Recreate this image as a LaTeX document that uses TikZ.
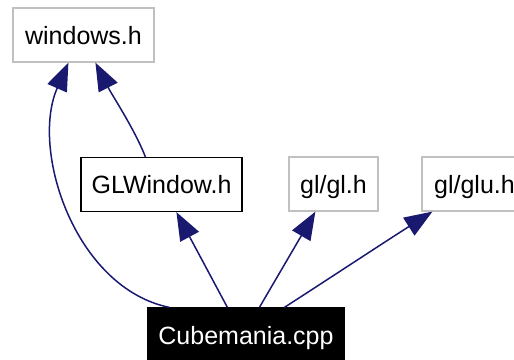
\documentclass[tikz,border=0pt]{standalone}
\usepackage{fontspec}
\setmainfont{Liberation Sans}
\usetikzlibrary{arrows.meta,calc}
\definecolor{edgeblue}{RGB}{25,25,112}
\definecolor{boxgray}{RGB}{192,192,192}
\tikzset{
  filebox/.style={draw=boxgray, line width=1.2pt, fill=white, inner sep=0pt,
    minimum height=54pt, text height=18pt, text depth=0pt,
    font=\fontsize{25}{25}\selectfont},
  mainbox/.style={filebox, draw=black},
  rootbox/.style={filebox, draw=black, fill=black, text=white},
  dep/.style={draw=edgeblue, line width=1.5pt, -{Triangle[length=28pt,width=21pt]}}
}
\begin{document}
\begin{tikzpicture}[x=1pt,y=-1pt]
\useasboundingbox (0,0) rectangle (514,359);
\node[filebox, minimum width=141pt] (win) at (83.5,35) {windows.h};
\node[mainbox, minimum width=161pt] (glw) at (161.5,184.5) {GLWindow.h};
\node[filebox, minimum width=89pt] (gl) at (333.5,184) {gl/gl.h};
\node[filebox, minimum width=105pt] (glu) at (474.5,184) {gl/glu.h};
\node[rootbox, minimum width=196pt, minimum height=55pt] (cube) at (246,335.5) {Cubemania.cpp};
\draw[dep] ([xshift=22pt]cube.north west) .. controls (75,288) and (30,150) .. ([xshift=56pt]win.south west);
\draw[dep] ([xshift=65pt]glw.north west) .. controls (135,130) and (112,95) .. ([xshift=83pt]win.south west);
\draw[dep] ([xshift=80pt]cube.north west) -- ([xshift=96pt]glw.south west);
\draw[dep] ([xshift=112pt]cube.north west) -- ([xshift=27pt]gl.south west);
\draw[dep] ([xshift=137pt]cube.north west) .. controls (330,278) and (380,245) .. ([xshift=11pt]glu.south west);
\end{tikzpicture}
\end{document}
